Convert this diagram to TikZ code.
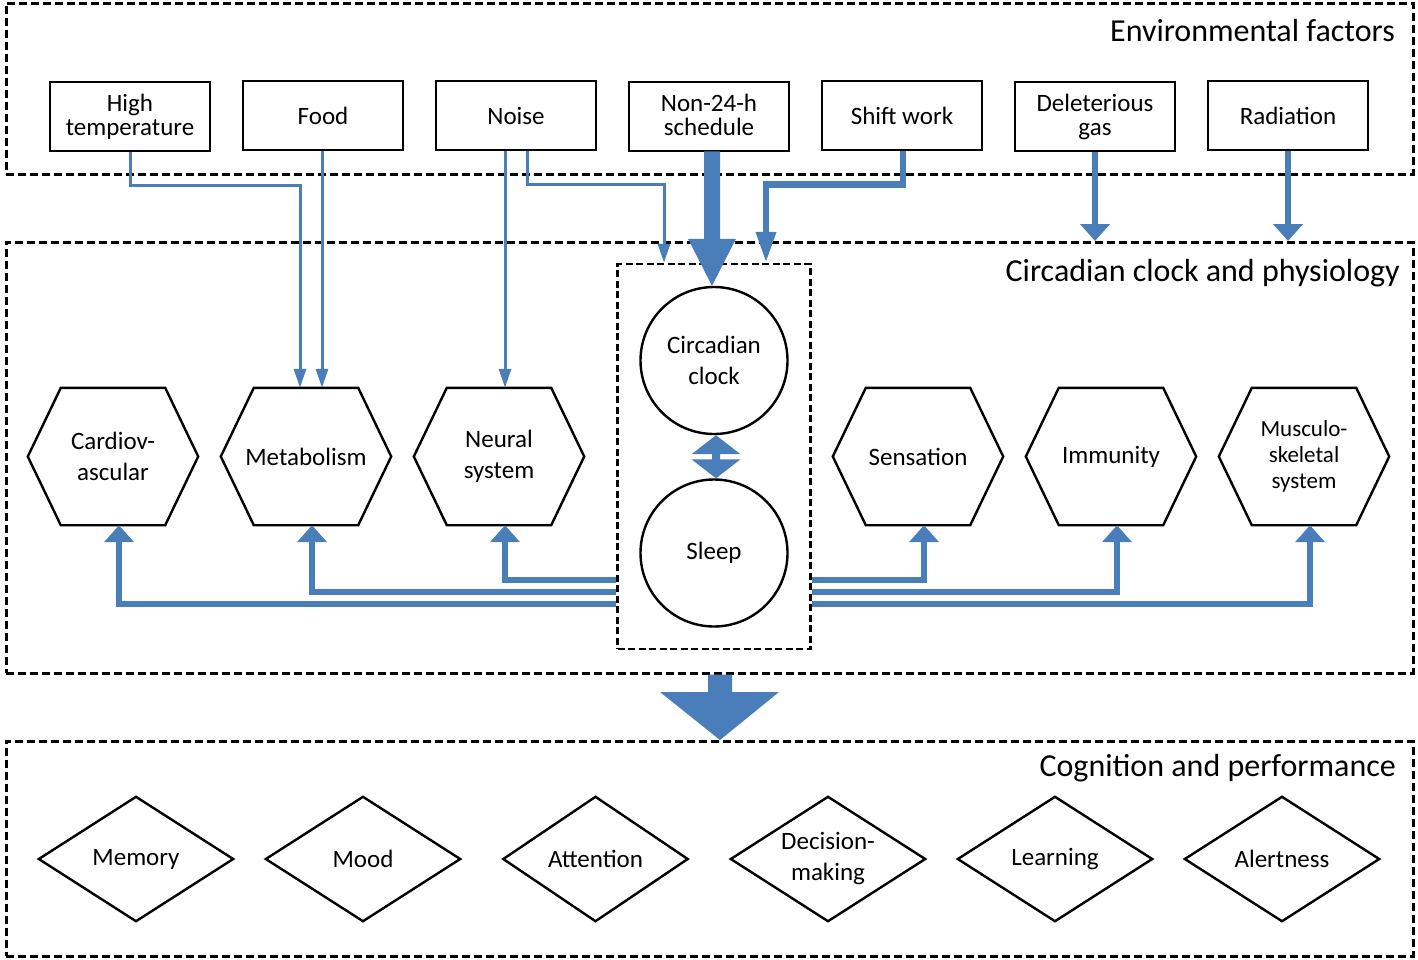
\documentclass[tikz,border=0pt]{standalone}
\usepackage{fontspec}
\setmainfont{Carlito}
\usetikzlibrary{shapes.geometric,arrows.meta,calc}
\definecolor{arblue}{RGB}{74,126,187}
\newcommand\hexnode[5][]{%
  \node[hexcore,#1] (#2) at (#3,#4) {#5};
  \draw[shapeline] ($(#2.north west)+(33,0)$) -- ($(#2.north east)+(-33,0)$) -- (#2.east)
    -- ($(#2.south east)+(-33,0)$) -- ($(#2.south west)+(33,0)$) -- (#2.west) -- cycle;}
\newcommand\diamnode[5][]{%
  \node[diamcore,#1] (#2) at (#3,#4) {#5};
  \draw[shapeline] (#2.north) -- (#2.east) -- (#2.south) -- (#2.west) -- cycle;}
\begin{document}
\begin{tikzpicture}[x=1pt,y=-1pt,
  dashbox/.style={draw, line width=2.7pt, dash pattern=on 8pt off 4pt, inner sep=0pt, anchor=north west},
  envnode/.style={draw, line width=2.6pt, minimum width=160pt, minimum height=69pt, inner sep=0pt, align=center, font=\fontsize{25}{24}\selectfont},
  shapeline/.style={line width=2.4pt, line join=miter},
  hexcore/.style={minimum width=170pt, minimum height=137pt, inner sep=0pt, align=center, font=\fontsize{25}{31}\selectfont},
  diamcore/.style={minimum width=194pt, minimum height=124pt, inner sep=0pt, align=center, font=\fontsize{25}{31}\selectfont},
  circ/.style={circle, draw, line width=2.4pt, minimum size=147pt, inner sep=0pt, align=center, font=\fontsize{25}{31}\selectfont},
  titletext/.style={anchor=east, inner sep=0pt, font=\fontsize{32}{32}\selectfont},
  thinarrow/.style={arblue, line width=3pt, -{Triangle[width=12pt,length=19pt]}},
  midarrow/.style={arblue, line width=6pt, -{Triangle[width=29pt,length=17pt]}},
  shiftarrow/.style={arblue, line width=6.5pt, -{Triangle[width=19pt,length=31pt]}},
]
\useasboundingbox (0,0) rectangle (1418,959);

% section boxes
\node[dashbox, minimum width=1407pt, minimum height=171pt] (envbox) at (5,2) {};
\node[dashbox, minimum width=1407pt, minimum height=431pt] (physbox) at (5,241) {};
\node[dashbox, minimum width=1407pt, minimum height=215pt] (cogbox) at (5,740) {};

\node[titletext] (t1) at (1395,31) {Environmental factors};
\node[titletext] (t2) at (1400,273) {Circadian clock and physiology};
\node[titletext] (t3) at (1396,768) {Cognition and performance};

% environmental factors
\node[envnode] (ht) at (130,116.5) {High\\temperature};
\node[envnode] (food) at (323,115.5) {Food};
\node[envnode] (noise) at (516,115.5) {Noise};
\node[envnode, text depth=3pt] (non24) at (709,116.5) {Non-24-h\\schedule};
\node[envnode] (shift) at (902,115.5) {Shift work};
\node[envnode] (gas) at (1095,116.5) {Deleterious\\gas};
\node[envnode] (rad) at (1288,115.5) {Radiation};

% core box and circles
\node[draw, line width=2.4pt, dash pattern=on 7pt off 3.5pt, minimum width=193pt, minimum height=385pt, inner sep=0pt] (core) at (714,456.5) {};
\node[circ] (clock) at (714,360.5) {Circadian\\clock};
\node[circ] (sleep) at (714,553) {Sleep};

% hexagons
\hexnode{cv}{113}{456.5}{Cardiov-\\ascular}
\hexnode{met}{306}{456.5}{Metabolism}
\hexnode{neu}{499}{456.5}{Neural\\system}
\hexnode{sen}{918}{456.5}{Sensation}
\hexnode{imm}{1111}{456.5}{Immunity}
\hexnode[font=\fontsize{23}{26}\selectfont]{mus}{1304}{456.5}{Musculo-\\skeletal\\system}

% diamonds
\diamnode{mem}{136}{859}{Memory}
\diamnode{mood}{363}{859}{Mood}
\diamnode[minimum width=184pt]{att}{595.5}{859}{Attention}
\diamnode{dec}{828}{859}{Decision-\\making}
\diamnode{learn}{1055}{859}{Learning}
\diamnode{alert}{1282}{859}{Alertness}

% environmental connectors
\draw[thinarrow] (ht.south) -- ++(0,33) -| ([xshift=-6pt]met.north);
\draw[thinarrow] ([xshift=-1pt]food.south) -- ([xshift=-1pt]food.south |- met.north);
\draw[thinarrow] ([xshift=-11pt]noise.south) -- ([xshift=-11pt]noise.south |- neu.north);
\draw[thinarrow] ([xshift=11pt]noise.south) -- ++(0,33) -| ([xshift=-50pt]core.north);
\draw[shiftarrow] ([xshift=1pt]shift.south) -- ++(0,33) -| ([xshift=52pt]core.north);
\draw[midarrow] (gas.south) -- (gas.south |- physbox.north);
\draw[midarrow] (rad.south) -- (rad.south |- physbox.north);

% thick arrow non-24 -> clock
\coordinate (ax) at (712,0);
\coordinate (ntop) at (ax |- non24.south);
\coordinate (ntip) at (ax |- clock.north);
\fill[arblue] ($(ntop)+(-8,-1)$) -- ($(ntop)+(8,-1)$) -- ($(ntip)+(8,-47)$) -- ($(ntip)+(24,-47)$)
  -- (ntip) -- ($(ntip)+(-24,-47)$) -- ($(ntip)+(-8,-47)$) -- cycle;

% double arrow clock <-> sleep
\coordinate (cs) at ([xshift=2pt]clock.south);
\coordinate (sn) at ([xshift=2pt]sleep.north);
\fill[arblue] (cs) -- ($(cs)+(24.5,19)$) -- ($(cs)+(4,19)$) -- ($(sn)+(4,-19)$) -- ($(sn)+(24.5,-19)$) -- (sn)
  -- ($(sn)+(-24.5,-19)$) -- ($(sn)+(-4,-19)$) -- ($(cs)+(-4,19)$) -- ($(cs)+(-24.5,19)$) -- cycle;

% physiology connectors
\coordinate (ya) at (0,580);
\coordinate (yb) at (0,592);
\coordinate (yc) at (0,604);
\draw[midarrow] (core.west |- ya) -| ([xshift=6pt]neu.south);
\draw[midarrow] (core.west |- yb) -| ([xshift=6pt]met.south);
\draw[midarrow] (core.west |- yc) -| ([xshift=6pt]cv.south);
\draw[midarrow] (core.east |- ya) -| ([xshift=6pt]sen.south);
\draw[midarrow] (core.east |- yb) -| ([xshift=6pt]imm.south);
\draw[midarrow] (core.east |- yc) -| ([xshift=6pt]mus.south);

% big arrow physiology -> cognition
\coordinate (bx) at (720,0);
\coordinate (bt) at (bx |- physbox.south);
\coordinate (bb) at (bx |- cogbox.north);
\fill[arblue] ($(bt)+(-12,0)$) -- ($(bt)+(12,0)$) -- ($(bb)+(12,-48)$) -- ($(bb)+(59,-48)$) -- (bb)
  -- ($(bb)+(-60,-48)$) -- ($(bb)+(-12,-48)$) -- cycle;
\end{tikzpicture}
\end{document}
